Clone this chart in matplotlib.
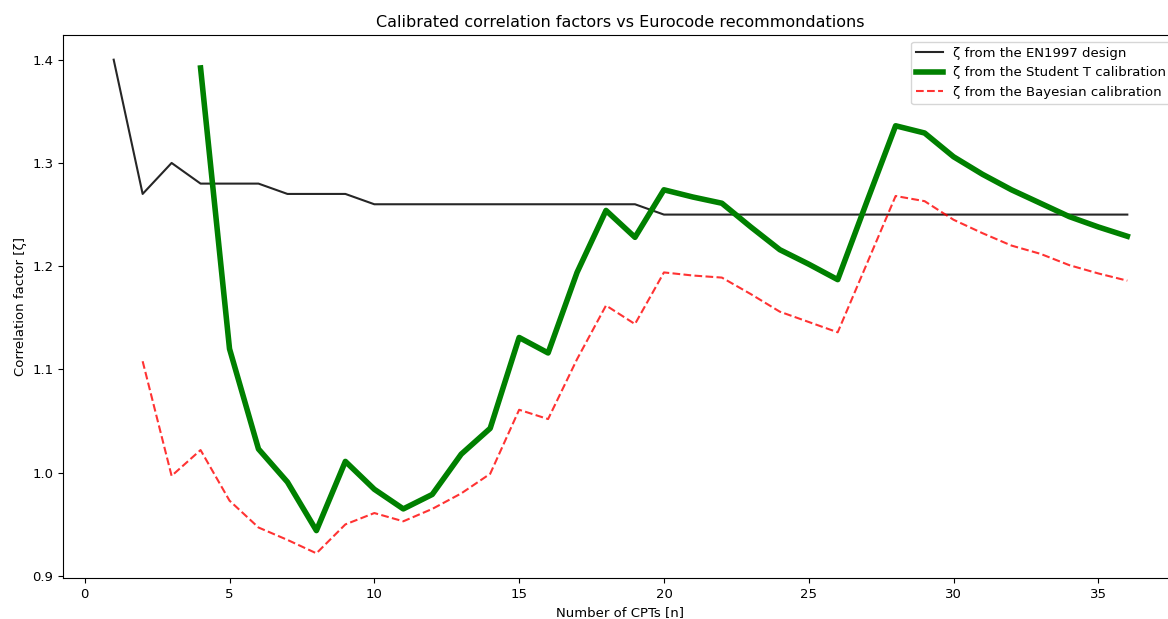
import matplotlib
matplotlib.use("Agg")
import matplotlib.pyplot as plt

# Number of CPTs for each series
n_en1997 = list(range(1, 37))
n_student = list(range(4, 37))
n_bayes = list(range(2, 37))

# Correlation factors recommended by EN1997
zeta_en1997 = [1.40, 1.27, 1.30, 1.28, 1.28, 1.28, 1.27, 1.27, 1.27, 1.26,
               1.26, 1.26, 1.26, 1.26, 1.26, 1.26, 1.26, 1.26, 1.26, 1.25,
               1.25, 1.25, 1.25, 1.25, 1.25, 1.25, 1.25, 1.25, 1.25, 1.25,
               1.25, 1.25, 1.25, 1.25, 1.25, 1.25]

# Correlation factors from the Student T calibration (n = 4..36)
zeta_student = [1.392, 1.120, 1.023, 0.991, 0.944, 1.011, 0.984, 0.965, 0.979,
                1.018, 1.043, 1.131, 1.116, 1.194, 1.254, 1.228, 1.274, 1.267,
                1.261, 1.238, 1.216, 1.202, 1.187, 1.262, 1.336, 1.329, 1.306,
                1.289, 1.274, 1.261, 1.248, 1.238, 1.229]

# Correlation factors from the Bayesian calibration (n = 2..36)
zeta_bayes = [1.108, 0.997, 1.022, 0.973, 0.947, 0.935, 0.922, 0.950, 0.961,
              0.953, 0.965, 0.980, 0.999, 1.061, 1.052, 1.110, 1.162, 1.144,
              1.194, 1.191, 1.189, 1.173, 1.156, 1.146, 1.136, 1.202, 1.268,
              1.263, 1.245, 1.232, 1.220, 1.212, 1.201, 1.193, 1.186]

plt.rcParams["font.size"] = 9.5

fig = plt.figure(figsize=(11.68, 6.19), dpi=100)
ax = fig.add_axes([63 / 1168, 41 / 619, (1178 - 63) / 1168, 543 / 619])

ax.plot(n_en1997, zeta_en1997, color="k", lw=1.5, alpha=0.85,
        label="ζ from the EN1997 design")
ax.plot(n_student, zeta_student, color="green", lw=4,
        label="ζ from the Student T calibration")
ax.plot(n_bayes, zeta_bayes, color="red", lw=1.5, ls="--", alpha=0.8,
        label="ζ from the Bayesian calibration")

ax.set_title("Calibrated correlation factors vs Eurocode recommondations", fontsize=11.5)
ax.set_xlabel("Number of CPTs [n]")
ax.set_ylabel("Correlation factor [ζ]")
ax.legend(loc="upper right")

fig.savefig("out.png", dpi=100)
